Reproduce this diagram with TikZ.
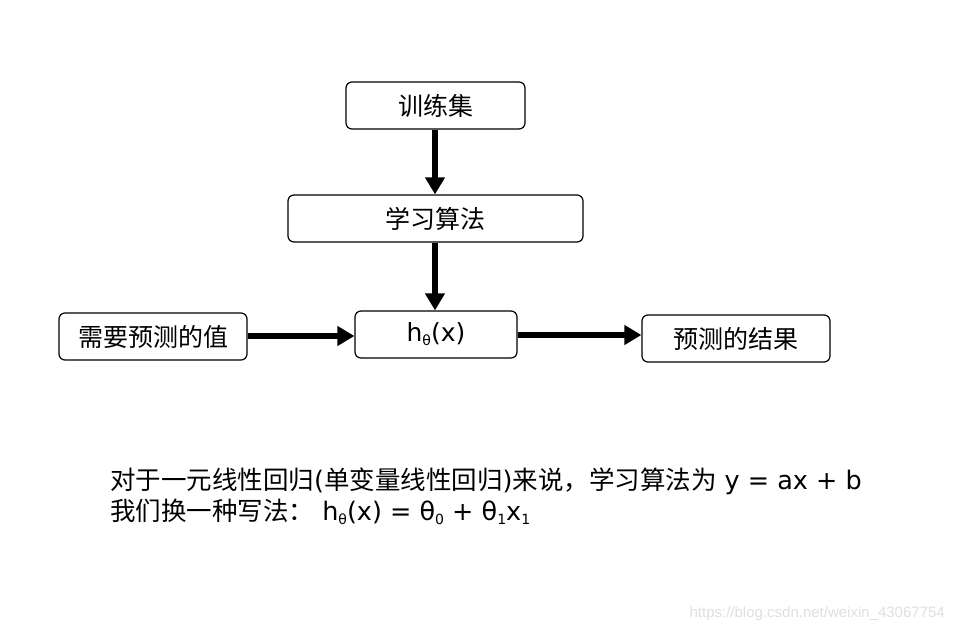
\documentclass[tikz,border=0pt]{standalone}
\usepackage{fontspec}
\setmainfont{DejaVu Sans}
\newfontfamily\cjk{Noto Sans CJK SC}
\newfontfamily\wmfont{Liberation Sans}
\usetikzlibrary{arrows.meta}
\newcommand{\lowtxt}[1]{\raisebox{-0.3ex}{\fontsize{14}{16}\selectfont #1}}
\begin{document}
\begin{tikzpicture}[x=1pt,y=-1pt,
  box/.style={draw=black,line width=1.2pt,rounded corners=6pt,minimum height=47pt,inner sep=0pt,font=\fontsize{25}{29}\selectfont\cjk},
  bigarrow/.style={line width=5.5pt,-{Triangle[width=19pt,length=17pt]}},
  note/.style={anchor=base west,inner sep=0pt,font=\fontsize{25.5}{29}\selectfont}]
\useasboundingbox[fill=white] (0,0) rectangle (953,631);
\node[box,minimum width=179pt] (train) at (435.5,105.5) {训练集};
\node[box,minimum width=295pt] (algo) at (435.5,218.5) {学习算法};
\node[box,minimum width=162pt,font=\fontsize{25}{29}\selectfont] (h) at (436,334.5) {h\lowtxt{θ}(x)};
\node[box,minimum width=188pt] (input) at (153,336.5) {需要预测的值};
\node[box,minimum width=188pt] (output) at (736,338.5) {预测的结果};
\draw[bigarrow] (train.south -| 435,0) -- (algo.north -| 435,0);
\draw[bigarrow] (algo.south -| 435,0) -- (h.north -| 435,0);
\draw[bigarrow] (input.east |- 0,336) -- (h.west |- 0,336);
\draw[bigarrow] (h.east |- 0,335) -- (output.west |- 0,335);
\node[note] (line1) at (110,489) {{\cjk 对于一元线性回归}({\cjk 单变量线性回归}){\cjk 来说，学习算法为} y = ax + b};
\node[note] (line2) at (110,520) {{\cjk 我们换一种写法：} h\lowtxt{θ}(x) = θ\lowtxt{0} + θ\lowtxt{1}x\lowtxt{1}};
\node[anchor=base east,inner sep=0pt,text=black!12,font=\fontsize{15}{17}\selectfont\wmfont] (wm) at (945,617) {https://blog.csdn.net/weixin\_43067754};
\end{tikzpicture}
\end{document}
